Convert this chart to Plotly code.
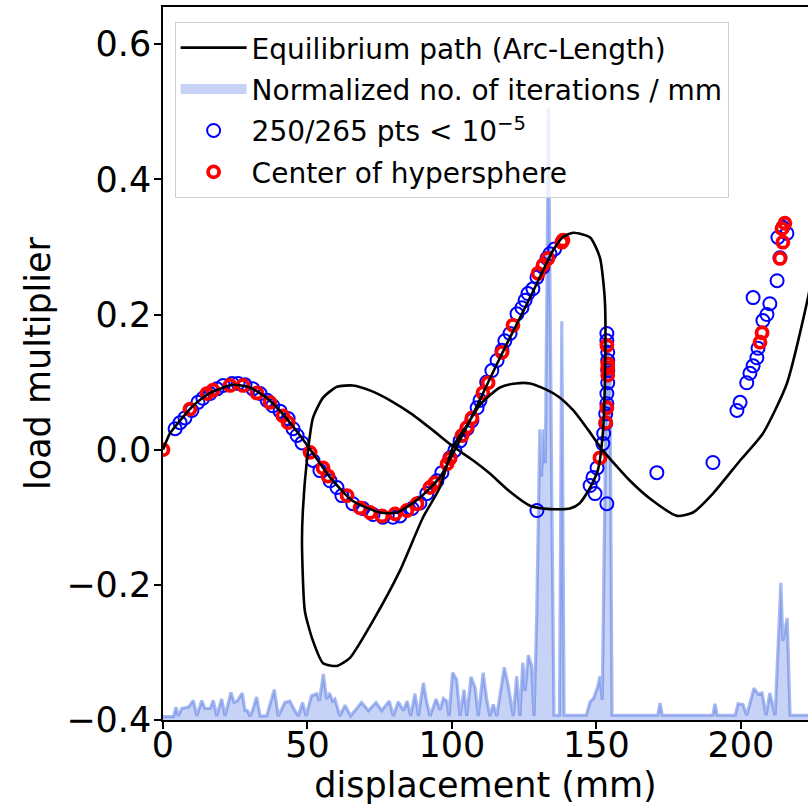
import plotly.graph_objects as go

# equilibrium path traced by the arc-length solver (mm, load multiplier)
path_x = [0, 2.4, 5.9, 10.4, 16.3, 24.2, 30.1, 36.0, 42.0, 46.7, 51.0, 57.8, 65.7, 75.0, 81.0,
          88.9, 95.8, 101.0, 107.0, 112.0, 119.0, 126.0, 131.5, 135.0, 138.5, 142.0, 147.8, 151.2,
          152.9, 153.0, 152.2, 150.5, 147.8, 144.0, 140.8, 134.0, 127.0, 120.0, 113.0, 107.0, 100.3,
          93.0, 86.0, 79.0, 72.0, 65.7, 60.2, 55.4, 51.9, 49.8, 48.4, 48.1, 49.1, 51.9, 55.4, 60.2,
          64.7, 72.7, 82.0, 90.0, 95.8, 100.3, 105.0, 110.0, 116.6, 122.0, 127.0, 133.0, 137.0,
          142.0, 147.0, 152.2, 161.6, 169.6, 177.9, 183.4, 190.3, 199.7, 207.6, 215.9, 223.2, 226.0]
path_y = [0, 0.024, 0.043, 0.065, 0.084, 0.096, 0.092, 0.076, 0.05, 0.025, 0.0, -0.041, -0.076,
          -0.093, -0.093, -0.071, -0.041, 0.0, 0.05, 0.095, 0.157, 0.216, 0.265, 0.295, 0.315, 0.321,
          0.314, 0.284, 0.221, 0.121, 0.024, -0.03, -0.056, -0.08, -0.087, -0.088, -0.083, -0.062,
          -0.035, -0.015, 0.005, 0.03, 0.053, 0.072, 0.087, 0.095, 0.093, 0.077, 0.047, -0.016, -0.09,
          -0.139, -0.239, -0.283, -0.316, -0.32, -0.308, -0.253, -0.179, -0.1, -0.056, 0.004, 0.035,
          0.068, 0.092, 0.098, 0.098, 0.088, 0.078, 0.058, 0.03, -0.001, -0.046, -0.076, -0.098,
          -0.093, -0.065, -0.016, 0.024, 0.098, 0.225, 0.29]

# normalized iteration count per mm (drawn from the bottom of the axes)
iter_x = [0, 3.6, 4.5, 5.3, 6.5, 8.8, 10.5, 11.7, 13.4, 14.5, 16.3, 17.4, 18.6, 20.3, 21.5, 23.5,
          24.6, 25.7, 27.4, 28.4, 29.2, 30.1, 31.0, 32.4, 33.6, 35.9, 38.5, 39.9, 42.2, 43.9, 45.7,
          46.8, 48.3, 49.5, 51.4, 53.2, 54.1, 55.5, 56.6, 57.6, 58.7, 59.5, 61.2, 63.0, 64.9, 66.4,
          68.7, 71.1, 73.7, 75.7, 78.3, 79.7, 81.4, 83.2, 84.5, 85.7, 87.2, 88.4, 90.1, 91.2, 92.4,
          94.5, 95.9, 97.0, 98.2, 99.0, 100.2, 101.6, 102.8, 104.2, 105.1, 106.6, 108.0, 109.1,
          110.8, 112.0, 113.1, 114.3, 115.5, 118.1, 119.5, 121.2, 122.4, 123.5, 124.5, 125.3, 126.4,
          127.6, 128.4, 129.3, 129.8, 130.4, 131.0, 131.7, 132.3, 133.4, 134.5, 135.3, 137.2, 138.0,
          138.8, 146.5, 147.8, 149.0, 150.5, 151.2, 152.0, 153.6, 154.7, 155.4, 171.2, 172.0, 172.8,
          190.3, 191.0, 191.8, 198.0, 199.0, 200.7, 202.0, 204.5, 206.0, 207.3, 208.7, 210.0, 211.8,
          213.8, 214.5, 216.0, 217.0, 226.0]
iter_y = [-0.395, -0.395, -0.381, -0.394, -0.383, -0.381, -0.371, -0.394, -0.371, -0.383, -0.383,
          -0.371, -0.394, -0.369, -0.394, -0.359, -0.374, -0.372, -0.360, -0.386, -0.386, -0.394,
          -0.386, -0.366, -0.394, -0.394, -0.355, -0.394, -0.374, -0.372, -0.387, -0.394, -0.374,
          -0.394, -0.364, -0.361, -0.372, -0.332, -0.369, -0.360, -0.372, -0.369, -0.394, -0.378,
          -0.394, -0.386, -0.374, -0.386, -0.374, -0.386, -0.372, -0.394, -0.373, -0.386, -0.372,
          -0.394, -0.361, -0.394, -0.345, -0.372, -0.394, -0.369, -0.385, -0.368, -0.372, -0.394,
          -0.330, -0.340, -0.394, -0.355, -0.394, -0.336, -0.352, -0.394, -0.330, -0.369, -0.394,
          -0.377, -0.394, -0.322, -0.350, -0.394, -0.335, -0.394, -0.315, -0.357, -0.304, -0.320,
          -0.394, -0.25, -0.1, 0.03, -0.04, 0.03, -0.02, 0.505, -0.05, -0.393, -0.393, 0.19,
          -0.393, -0.393, -0.373, -0.368, -0.35, -0.335, -0.37, 0.165, 0.10, -0.393, -0.393, -0.375,
          -0.393, -0.393, -0.376, -0.393, -0.393, -0.376, -0.377, -0.393, -0.353, -0.362, -0.360,
          -0.393, -0.360, -0.393, -0.197, -0.283, -0.249, -0.393, -0.393]

# converged points (residual < 1e-5)
conv_x = [4.2, 5.9, 7.6, 10.0, 12.1, 13.8, 16.3, 18.7, 20.8, 23.9, 26.0, 28.4, 31.1, 33.6, 36.0,
          38.0, 40.5, 43.3, 45.0, 46.4, 48.1, 51.9, 54.3, 57.8, 60.2, 61.9, 65.7, 69.2, 72.7, 76.1,
          79.6, 82.0, 86.2, 88.9, 91.3, 94.8, 96.5, 99.3, 101.0, 102.8, 105.2, 106.9, 108.7, 109.7,
          112.0, 113.8, 115.6, 117.3, 118.3, 120.1, 122.5, 124.2, 125.3, 126.3, 128.0, 129.4, 131.5,
          132.9, 133.9, 135.5,
          153.6, 153.6, 153.9, 153.9, 153.9, 153.9, 153.6, 153.6, 153.2, 153.2, 152.5, 152.2,
          150.2, 148.8, 147.8, 149.5, 153.6, 129.4, 170.9, 190.3,
          198.6, 199.7, 202.0, 203.1, 204.2, 205.5, 205.9, 207.6, 209.0, 210.0, 204.2, 212.5, 213.5,
          212.8, 214.5, 215.9]
conv_y = [0.031, 0.040, 0.047, 0.058, 0.070, 0.076, 0.083, 0.090, 0.095, 0.098, 0.098, 0.096, 0.090,
          0.083, 0.073, 0.065, 0.057, 0.046, 0.031, 0.021, 0.010, -0.016, -0.031, -0.046, -0.056,
          -0.068, -0.080, -0.087, -0.096, -0.100, -0.100, -0.098, -0.087, -0.079, -0.065, -0.046,
          -0.034, -0.012, -0.001, 0.013, 0.031, 0.043, 0.062, 0.073, 0.100, 0.117, 0.132, 0.147,
          0.161, 0.172, 0.201, 0.210, 0.221, 0.231, 0.238, 0.255, 0.270, 0.283, 0.290, 0.297,
          0.172, 0.161, 0.144, 0.132, 0.117, 0.099, 0.083, 0.068, 0.053, 0.039, 0.024, 0.009,
          -0.027, -0.041, -0.053, -0.065, -0.080, -0.090, -0.034, -0.019,
          0.058, 0.070, 0.099, 0.113, 0.124, 0.136, 0.150, 0.191, 0.200, 0.216, 0.225, 0.250, 0.284,
          0.314, 0.329, 0.320]

# centres of the hypersphere
center_x = [0, 9.3, 15.2, 17.3, 23.2, 27.7, 32.5, 37.0, 41.5, 43.3, 50.9, 55.4, 57.1, 63.7, 68.2,
            71.6, 75.8, 80.3, 84.4, 87.9, 92.4, 94.1, 98.3, 99.3, 103.5, 105.2, 106.9, 110.7, 112.5,
            117.3, 121.1, 129.8, 131.5, 133.2, 138.0, 138.4,
            153.6, 153.9, 153.9, 153.9, 153.6, 153.2, 151.2,
            207.3, 206.6, 213.5, 214.5, 214.2, 215.2]
center_y = [0, 0.060, 0.083, 0.088, 0.095, 0.095, 0.084, 0.070, 0.050, 0.040, -0.004, -0.027, -0.039,
            -0.068, -0.086, -0.093, -0.098, -0.095, -0.090, -0.080, -0.056, -0.049, -0.021, -0.013,
            0.021, 0.033, 0.047, 0.084, 0.099, 0.144, 0.184, 0.261, 0.273, 0.283, 0.307, 0.310,
            0.154, 0.127, 0.121, 0.110, 0.062, 0.040, -0.012,
            0.173, 0.159, 0.283, 0.307, 0.327, 0.335]

FONT = "DejaVu Sans"
FILL = "rgba(65,105,225,0.3)"
y_floor = -0.45

fig = go.Figure()

# filled area under the iteration curve, closed down below the axis
fig.add_trace(go.Scatter(
    x=iter_x + [iter_x[-1], iter_x[0]],
    y=iter_y + [y_floor, y_floor],
    fill="toself", fillcolor=FILL,
    mode="lines", line=dict(width=0),
    showlegend=False, hoverinfo="skip",
))
fig.add_trace(go.Scatter(
    x=iter_x, y=iter_y, mode="lines",
    line=dict(color="rgba(65,105,225,0.45)", width=3.2),
    showlegend=False,
))
# legend swatch for the filled area
fig.add_trace(go.Scatter(
    x=[None], y=[None], mode="lines",
    line=dict(color=FILL, width=22),
    name="Normalized no. of iterations / mm", legendrank=2, legendgroup="g2",
))
fig.add_trace(go.Scatter(
    x=conv_x, y=conv_y, mode="markers",
    marker=dict(symbol="circle-open", size=13, color="blue", line=dict(width=2)),
    name="250/265 pts &lt; 10<sup>−5</sup>", legendrank=3, legendgroup="g3",
))
fig.add_trace(go.Scatter(
    x=center_x, y=center_y, mode="markers",
    marker=dict(symbol="circle-open", size=11, color="red", line=dict(width=3.8)),
    name="Center of hypersphere", legendrank=4, legendgroup="g4",
))
fig.add_trace(go.Scatter(
    x=path_x, y=path_y, mode="lines",
    line=dict(color="black", width=2.6, shape="spline", smoothing=0.6),
    name="Equilibrium path (Arc-Length)", legendrank=1, legendgroup="g1",
))

fig.update_layout(
    width=808, height=809,
    margin=dict(l=163, r=0, t=7, b=89),
    plot_bgcolor="white", paper_bgcolor="white",
    font=dict(family=FONT, size=35, color="black"),
    showlegend=True,
    legend=dict(
        x=0.018, y=0.979, xanchor="left", yanchor="top",
        bgcolor="rgba(255,255,255,0.8)", bordercolor="#d0d0d0", borderwidth=1,
        font=dict(family=FONT, size=28), tracegroupgap=2, itemwidth=66,
    ),
    xaxis=dict(
        range=[0, 223.2], tickvals=[0, 50, 100, 150, 200],
        showgrid=False, zeroline=False, automargin=False,
        showline=True, linecolor="black", linewidth=1.5, mirror=True,
        ticks="outside", ticklen=7, tickwidth=1.5, tickcolor="black",
        ticklabelstandoff=-14,
        title=dict(text="displacement (mm)", font=dict(size=35), standoff=0),
    ),
    yaxis=dict(
        range=[-0.4, 0.655], tickvals=[-0.4, -0.2, 0.0, 0.2, 0.4, 0.6],
        tickformat=".1f",
        showgrid=False, zeroline=False, automargin=False,
        showline=True, linecolor="black", linewidth=1.5,
        ticks="outside", ticklen=7, tickwidth=1.5, tickcolor="black",
        ticklabelstandoff=-4,
        title=dict(text="load multiplier", font=dict(size=35), standoff=5),
    ),
)

# the page's default body margin would shift the whole figure by 8px
fig.write_html(
    "out.html",
    config={"displayModeBar": False},
    post_script="document.body.style.margin = '0px';",
)
